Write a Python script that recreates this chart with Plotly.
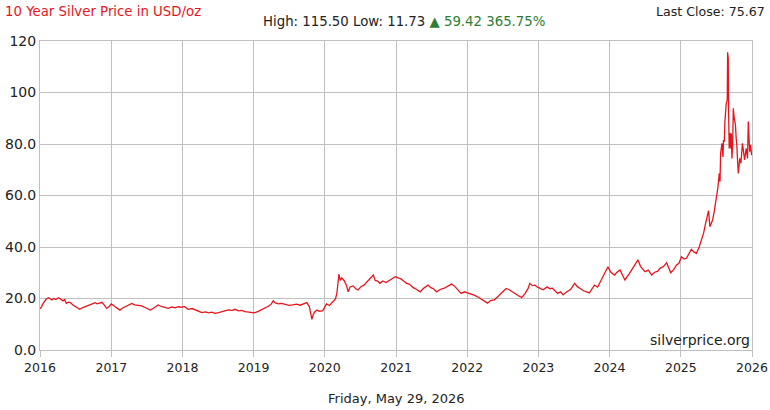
# 10 year silver price chart (USD/oz), silverprice.org style
import plotly.graph_objects as go

# -----------------------------
# Data
# -----------------------------
dates = [
    "2016-01-01", "2016-01-08", "2016-01-15", "2016-01-24", "2016-02-02", "2016-02-14", "2016-02-22",
    "2016-03-02", "2016-03-12", "2016-03-22", "2016-04-05", "2016-04-14", "2016-04-28", "2016-05-06",
    "2016-05-15", "2016-05-26", "2016-06-05", "2016-06-18", "2016-07-01", "2016-07-12", "2016-07-23",
    "2016-08-05", "2016-08-20", "2016-09-06", "2016-09-22", "2016-10-09", "2016-10-20", "2016-11-01",
    "2016-11-14", "2016-11-25", "2016-12-08", "2016-12-20",
    "2017-01-01", "2017-01-14", "2017-01-28", "2017-02-14", "2017-02-28", "2017-03-14", "2017-03-28",
    "2017-04-16", "2017-04-30", "2017-05-15", "2017-06-05", "2017-06-20", "2017-07-05", "2017-07-20",
    "2017-08-05", "2017-08-29", "2017-09-15", "2017-10-01", "2017-10-20", "2017-11-08", "2017-11-25",
    "2017-12-10", "2017-12-25",
    "2018-01-10", "2018-01-30", "2018-02-20", "2018-03-10", "2018-03-28", "2018-04-10", "2018-04-28",
    "2018-05-15", "2018-06-01", "2018-06-17", "2018-07-05", "2018-07-22", "2018-08-07", "2018-08-25",
    "2018-09-12", "2018-09-28", "2018-10-15", "2018-11-01", "2018-11-18", "2018-12-05", "2018-12-20",
    "2019-01-05", "2019-01-25", "2019-02-12", "2019-02-28", "2019-03-18", "2019-04-01", "2019-04-12",
    "2019-04-22", "2019-05-08", "2019-05-25", "2019-06-12", "2019-07-01", "2019-07-20", "2019-08-10",
    "2019-08-28", "2019-09-15", "2019-10-01", "2019-10-14", "2019-10-22", "2019-10-27", "2019-11-03",
    "2019-11-10", "2019-11-22", "2019-12-05", "2019-12-22",
    "2020-01-10", "2020-01-25", "2020-02-14", "2020-02-25", "2020-03-03", "2020-03-09", "2020-03-14",
    "2020-03-20", "2020-03-28", "2020-04-10", "2020-04-22", "2020-04-30", "2020-05-10", "2020-05-26",
    "2020-06-08", "2020-06-20", "2020-07-05", "2020-07-20", "2020-08-04", "2020-08-18", "2020-09-06",
    "2020-09-16", "2020-09-28", "2020-10-10", "2020-10-25", "2020-11-10", "2020-11-25", "2020-12-10",
    "2020-12-28",
    "2021-01-12", "2021-01-26", "2021-02-10", "2021-02-24", "2021-03-12", "2021-03-28", "2021-04-14",
    "2021-05-05", "2021-05-22", "2021-06-14", "2021-06-28", "2021-07-12", "2021-07-28", "2021-08-15",
    "2021-09-05", "2021-09-25", "2021-10-12", "2021-10-28", "2021-11-12", "2021-12-01", "2021-12-18",
    "2022-01-15", "2022-02-05", "2022-02-25", "2022-03-10", "2022-03-28", "2022-04-15", "2022-05-01",
    "2022-05-20", "2022-06-05", "2022-06-18", "2022-07-05", "2022-07-20", "2022-08-05", "2022-08-20",
    "2022-09-10", "2022-09-25", "2022-10-08", "2022-10-25", "2022-11-10", "2022-11-18", "2022-12-01",
    "2022-12-14", "2022-12-28",
    "2023-01-08", "2023-01-25", "2023-02-15", "2023-03-01", "2023-03-14", "2023-03-28", "2023-04-10",
    "2023-04-25", "2023-05-08", "2023-05-25", "2023-06-15", "2023-07-06", "2023-07-20", "2023-08-05",
    "2023-08-20", "2023-09-06", "2023-09-20", "2023-10-01", "2023-10-16", "2023-11-01", "2023-11-15",
    "2023-11-29", "2023-12-12", "2023-12-24",
    "2024-01-08", "2024-01-26", "2024-02-10", "2024-02-24", "2024-03-08", "2024-03-20", "2024-04-10",
    "2024-04-30", "2024-05-12", "2024-05-26", "2024-06-08", "2024-07-01", "2024-07-18", "2024-08-04",
    "2024-08-20", "2024-09-05", "2024-09-16", "2024-10-05", "2024-10-20", "2024-11-01", "2024-11-10",
    "2024-11-25", "2024-12-10", "2024-12-22",
    "2025-01-04", "2025-01-18", "2025-01-30", "2025-02-12", "2025-02-24", "2025-03-10", "2025-03-22",
    "2025-04-05", "2025-04-16", "2025-04-28", "2025-05-08", "2025-05-15", "2025-05-23", "2025-05-30",
    "2025-06-06", "2025-06-13", "2025-06-21", "2025-07-02", "2025-07-10", "2025-07-17", "2025-07-21",
    "2025-07-24", "2025-07-28", "2025-07-31", "2025-08-05", "2025-08-08", "2025-08-12", "2025-08-15",
    "2025-08-22", "2025-08-27", "2025-08-29", "2025-09-01", "2025-09-03", "2025-09-06", "2025-09-10",
    "2025-09-14", "2025-09-17", "2025-09-20", "2025-09-24", "2025-09-27", "2025-10-02", "2025-10-08",
    "2025-10-12", "2025-10-15", "2025-10-20", "2025-10-23", "2025-10-30", "2025-11-05", "2025-11-13",
    "2025-11-18", "2025-11-24", "2025-12-02", "2025-12-09", "2025-12-13", "2025-12-17", "2025-12-20",
    "2025-12-25", "2025-12-30",
]

prices = [
    16.0, 16.6, 17.8, 18.9, 19.8, 20.3, 19.7,
    19.4, 20.0, 19.6, 20.3, 19.8, 19.1, 19.6,
    18.1, 18.6, 18.4, 17.5, 16.9, 16.3, 15.8,
    16.4, 16.8, 17.2, 17.8, 18.4, 17.9, 18.2,
    18.5, 17.5, 16.2, 16.8,
    17.9, 17.2, 16.4, 15.5, 16.3, 16.9, 17.4,
    18.1, 17.5, 17.3, 17.1, 16.6, 16.0, 15.5,
    16.2, 17.5, 16.9, 16.6, 16.2, 16.7, 16.4,
    16.8, 16.6,
    16.9, 15.8, 16.1, 15.6, 15.0, 14.5, 14.8,
    14.4, 14.7, 14.2, 14.5, 14.9, 15.3, 15.6,
    15.4, 15.8, 15.2, 15.4, 14.9, 14.7, 14.5,
    14.4, 15.0, 15.6, 16.2, 17.0, 17.8, 19.1,
    18.3, 17.9, 18.1, 17.8, 17.3, 17.5, 17.8,
    17.4, 18.0, 18.4, 16.8, 14.0, 11.9, 13.8,
    14.8, 15.5, 15.0, 15.3,
    17.9, 17.3, 18.8, 19.8, 22.0, 26.0, 29.5,
    27.0, 28.0, 26.9, 25.0, 22.6, 24.5, 24.9,
    23.8, 23.3, 24.6, 25.2, 26.5, 27.4, 29.1,
    27.0, 26.8, 25.9, 26.8, 26.2, 26.9, 27.6,
    28.5,
    28.0, 27.6, 26.7, 25.9, 25.5, 24.3, 23.6,
    22.6, 24.0, 25.2, 24.2, 23.8, 22.6, 23.5,
    24.0, 24.8, 25.6, 24.8, 23.5, 22.0, 22.6,
    22.0, 21.3, 20.6, 20.0, 19.0, 18.2, 19.2,
    19.5, 20.6, 21.4, 22.8, 23.9, 23.4, 22.6,
    21.5, 20.9, 20.4, 22.0, 24.0, 25.9, 25.0,
    25.2, 24.4,
    24.0, 23.4, 24.5, 23.8, 24.0, 23.0, 22.0,
    22.6, 21.4, 22.5, 23.5, 25.9, 24.6, 23.8,
    23.0, 22.6, 22.2, 23.5, 25.2, 24.4, 26.5,
    28.5, 30.0, 32.3,
    30.2, 29.1, 30.3, 31.1, 29.0, 27.2, 29.5,
    31.7, 33.0, 35.0, 32.5, 30.4, 31.0, 29.1,
    30.2, 30.6, 31.7, 32.5, 33.9, 31.4, 30.0,
    31.2, 33.0, 33.7,
    36.2, 35.3, 35.6, 37.5, 39.1, 38.0, 37.5,
    40.0, 42.7, 45.5, 49.2, 52.0, 54.1, 47.9,
    49.0, 50.5, 53.7, 58.9, 63.0, 68.6, 65.4,
    76.4, 78.3, 80.3, 75.0, 81.5, 80.9, 88.7,
    95.8, 97.0, 115.6, 113.3, 92.5, 78.3, 84.3,
    78.3, 84.1, 74.4, 80.0, 93.9, 90.0, 87.4,
    82.0, 79.6, 72.0, 68.6, 74.4, 72.5, 80.3,
    76.0, 73.8, 78.3, 74.4, 88.7, 79.0, 77.0,
    79.6, 75.67,
]

y_ticks = [0, 20, 40, 60, 80, 100, 120]
y_tick_text = ["0.0", "20.0", "40.0", "60.0", "80.0", "100", "120"]

TITLE = "10 Year Silver Price in USD/oz"
LAST_CLOSE = "Last Close: 75.67"
STATS = "High: 115.50 Low: 11.73 "
CHANGE = "▲ 59.42 365.75%"
SOURCE = "silverprice.org"
DATE_LABEL = "Friday, May 29, 2026"

FONT = "DejaVu Sans"
GRID = "#c0c0c0"
TEXT = "#222222"

# -----------------------------
# Figure
# -----------------------------
fig = go.Figure()
fig.add_trace(go.Scatter(
    x=dates, y=prices, mode="lines",
    line=dict(color="#e8141c", width=1.3),
    hoverinfo="x+y", showlegend=False,
))

fig.update_layout(
    width=770, height=410,
    margin=dict(l=40, r=18, t=41, b=60, autoexpand=False),
    paper_bgcolor="white", plot_bgcolor="white",
    font=dict(family=FONT, size=12, color=TEXT),
    xaxis=dict(
        type="date", range=["2016-01-01", "2026-01-01"],
        dtick="M12", tick0="2016-01-01", tickformat="%Y",
        showgrid=True, gridcolor=GRID, gridwidth=1,
        showline=True, linecolor=GRID, linewidth=1, mirror=True,
        ticks="outside", ticklen=6, tickcolor=GRID,
        tickfont=dict(family=FONT, size=12.5, color=TEXT),
        zeroline=False, automargin=False,
    ),
    yaxis=dict(
        range=[0, 120], tickvals=y_ticks, ticktext=y_tick_text,
        showgrid=True, gridcolor=GRID, gridwidth=1,
        showline=True, linecolor=GRID, linewidth=1, mirror=True,
        ticks="",
        tickfont=dict(family=FONT, size=14, color=TEXT),
        zeroline=False, automargin=False,
    ),
)

fig.add_annotation(text=TITLE, xref="paper", yref="paper", x=-37 / 712, y=1 + 29 / 309,
                   xanchor="left", yanchor="middle", showarrow=False,
                   font=dict(family=FONT, size=13.3, color="#e8141c"))
fig.add_annotation(text=LAST_CLOSE, xref="paper", yref="paper", x=1 + 15 / 712, y=1 + 29 / 309,
                   xanchor="right", yanchor="middle", showarrow=False,
                   font=dict(family=FONT, size=12.6, color=TEXT))
fig.add_annotation(text=STATS + "<span style='color:#2e7d32'>" + CHANGE + "</span>",
                   xref="paper", yref="paper", x=(404 - 40) / 712, y=1 + 19 / 309,
                   xanchor="center", yanchor="middle", showarrow=False,
                   font=dict(family=FONT, size=13.3, color=TEXT))
fig.add_annotation(text=SOURCE, xref="paper", yref="paper", x=1, y=0,
                   xanchor="right", yanchor="bottom", showarrow=False,
                   font=dict(family=FONT, size=14, color=TEXT))
fig.add_annotation(text=DATE_LABEL, xref="paper", yref="paper", x=0.5, y=-48 / 309,
                   xanchor="center", yanchor="middle", showarrow=False,
                   font=dict(family=FONT, size=13, color=TEXT))

# page body has a default margin; drop it so the figure sits at the window corner
fig.write_html("out.html", config={"displayModeBar": False},
               post_script="document.body.style.margin='0';")
